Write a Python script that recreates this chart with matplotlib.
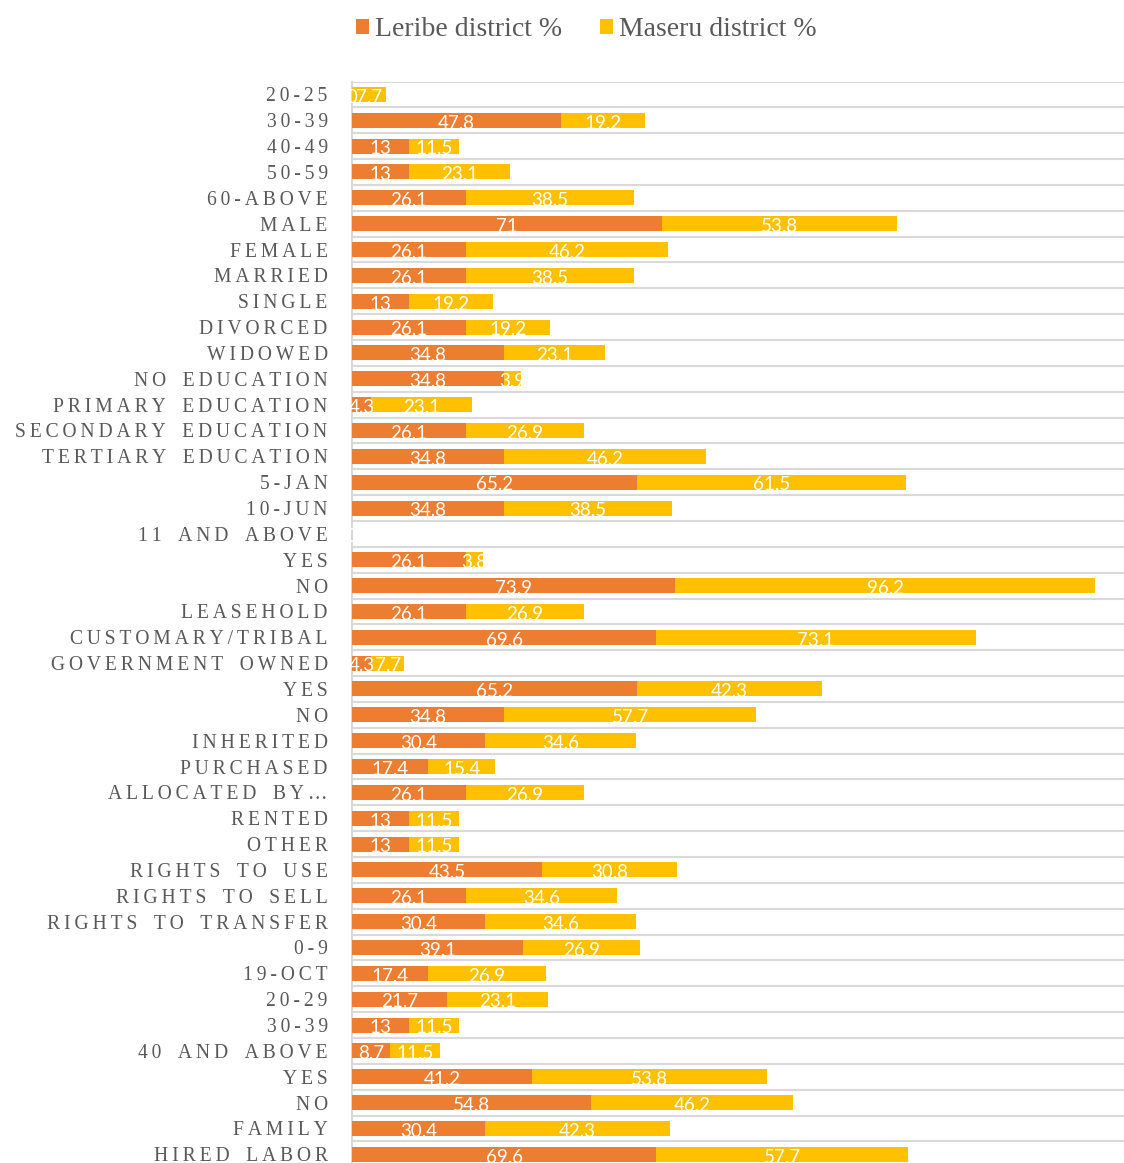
import numpy as np
import matplotlib
matplotlib.use("Agg")
import matplotlib.pyplot as plt
from matplotlib.patches import Patch

categories = [
    "20-25", "30-39", "40-49", "50-59", "60-ABOVE",
    "MALE", "FEMALE",
    "MARRIED", "SINGLE", "DIVORCED", "WIDOWED",
    "NO EDUCATION", "PRIMARY EDUCATION", "SECONDARY EDUCATION", "TERTIARY EDUCATION",
    "5-JAN", "10-JUN", "11 AND ABOVE",
    "YES", "NO",
    "LEASEHOLD", "CUSTOMARY/TRIBAL", "GOVERNMENT OWNED",
    "YES", "NO",
    "INHERITED", "PURCHASED", "ALLOCATED BY\u2026", "RENTED", "OTHER",
    "RIGHTS TO USE", "RIGHTS TO SELL", "RIGHTS TO TRANSFER",
    "0-9", "19-OCT", "20-29", "30-39", "40 AND ABOVE",
    "YES", "NO",
    "FAMILY", "HIRED LABOR",
]

leribe = [0, 47.8, 13, 13, 26.1, 71, 26.1, 26.1, 13, 26.1, 34.8, 34.8, 4.3, 26.1,
          34.8, 65.2, 34.8, 0, 26.1, 73.9, 26.1, 69.6, 4.3, 65.2, 34.8, 30.4, 17.4,
          26.1, 13, 13, 43.5, 26.1, 30.4, 39.1, 17.4, 21.7, 13, 8.7, 41.2, 54.8,
          30.4, 69.6]
maseru = [7.7, 19.2, 11.5, 23.1, 38.5, 53.8, 46.2, 38.5, 19.2, 19.2, 23.1, 3.9, 23.1,
          26.9, 46.2, 61.5, 38.5, 0, 3.8, 96.2, 26.9, 73.1, 7.7, 42.3, 57.7, 34.6, 15.4,
          26.9, 11.5, 11.5, 30.8, 34.6, 34.6, 26.9, 26.9, 23.1, 11.5, 11.5, 53.8, 46.2,
          42.3, 57.7]

series_names = ["Leribe district %", "Maseru district %"]
colors = ["#ED7D31", "#FFC000"]
grid_color = "#D9D9D9"
text_color = "#595959"

W, H = 1124, 1163
fig = plt.figure(figsize=(W / 100, H / 100), dpi=100)

# plot area in pixel terms (the lower edge runs just past the figure)
left_px, right_px, top_px, bottom_px = 352, 1124, 81.5, 1167.2
ax = fig.add_axes([left_px / W, (H - bottom_px) / H,
                   (right_px - left_px) / W, (bottom_px - top_px) / H])

y = np.arange(len(categories))
bar_h = 0.58
ax.barh(y, leribe, height=bar_h, color=colors[0], zorder=3)
ax.barh(y, maseru, left=leribe, height=bar_h, color=colors[1], zorder=3)

label_font = dict(family=["Lato", "DejaVu Sans"], size=13.5, color="white")
for i in range(len(categories)):
    a, b = leribe[i], maseru[i]
    ax.annotate(f"{a:g}", (a / 2, i), xytext=(0, -2), textcoords="offset points",
                ha="center", va="center", zorder=4, annotation_clip=False, **label_font)
    ax.annotate(f"{b:g}", (a + b / 2, i), xytext=(0, -2), textcoords="offset points",
                ha="center", va="center", zorder=4, annotation_clip=False, **label_font)

px_per_unit = 4.37
ax.set_xlim(0, (right_px - left_px) / px_per_unit)
ax.set_ylim(len(categories) - 0.5, -0.5)

# letter-spaced category labels, with a little extra room between words
def spaced(s):
    return "\u2009".join(s).replace(" ", " \u2009")

ax.set_yticks(y)
ax.set_yticklabels([spaced(c) for c in categories], family=["Liberation Serif", "DejaVu Serif"],
                   fontsize=14.1, color=text_color)
ax.tick_params(axis="y", length=0, pad=17.5)
ax.set_xticks([])

ax.set_yticks(np.arange(-0.5, len(categories), 1), minor=True)
ax.tick_params(axis="y", which="minor", length=0)
ax.grid(which="minor", axis="y", color=grid_color, linewidth=1.5, zorder=0)
ax.set_axisbelow(True)

for side in ["top", "right", "bottom"]:
    ax.spines[side].set_visible(False)
ax.spines["left"].set_color(grid_color)
ax.spines["left"].set_linewidth(1.5)
ax.spines["left"].set_zorder(2)

handles = [Patch(facecolor=c, edgecolor="none") for c in colors]
fig.legend(handles, series_names, loc="center", bbox_to_anchor=(586.5 / W, 1 - 30 / H),
           ncol=2, frameon=False, handlelength=0.48, handleheight=0.48,
           handletextpad=0.22, columnspacing=1.35,
           prop=dict(family="Liberation Serif", size=20), labelcolor=text_color)

fig.savefig("out.png", dpi=100)
